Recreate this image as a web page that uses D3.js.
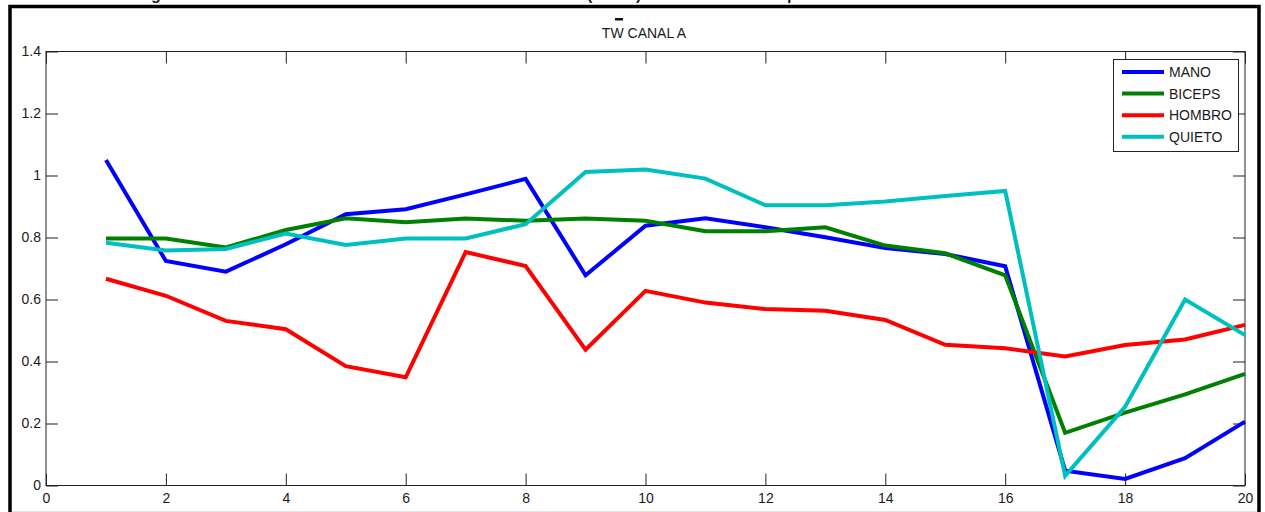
<!DOCTYPE html>
<html>
<head>
<meta charset="utf-8">
<script src="https://cdn.jsdelivr.net/npm/d3@7"></script>
<style>
  body { margin: 0; background: #fff; }
  svg { display: block; }
  text { font-family: Arial, "Liberation Sans", sans-serif; fill: #1a1a1a; }
</style>
</head>
<body>
<svg></svg>
<script>
const W = 1265, H = 512;
const svg = d3.select("svg").attr("width", W).attr("height", H);

// data
const xs = d3.range(1, 21);
const mano   = [1.05, 0.724, 0.69, 0.778, 0.875, 0.891, 0.939, 0.989, 0.678, 0.838,
                0.862, 0.833, 0.801, 0.766, 0.747, 0.707, 0.048, 0.021, 0.088, 0.206];
const biceps = [0.797, 0.797, 0.768, 0.824, 0.862, 0.849, 0.861, 0.854, 0.861, 0.854,
                0.82, 0.82, 0.833, 0.774, 0.749, 0.678, 0.17, 0.235, 0.294, 0.36];
const hombro = [0.667, 0.612, 0.531, 0.504, 0.385, 0.349, 0.753, 0.708, 0.438, 0.628,
                0.59, 0.569, 0.564, 0.534, 0.454, 0.443, 0.416, 0.453, 0.471, 0.518];
const quieto = [0.783, 0.758, 0.763, 0.813, 0.776, 0.797, 0.797, 0.843, 1.011, 1.019,
                0.99, 0.904, 0.904, 0.916, 0.934, 0.95, 0.031, 0.254, 0.6, 0.485];
const seriesNames = ["MANO", "BICEPS", "HOMBRO", "QUIETO"];
const seriesColors = ["#0000ff", "#008000", "#ff0000", "#00bfbf"];
const xTicks = d3.range(0, 21, 2);
const yTicks = [0, 0.2, 0.4, 0.6, 0.8, 1, 1.2, 1.4];

const series = [mano, biceps, hombro, quieto];

const x = d3.scaleLinear().domain([0, 20]).range([46, 1245]);
const y = d3.scaleLinear().domain([0, 1.4]).range([485.5, 51.5]);

// clipped caption of the page above the figure (cut off in the original too)
const cap = svg.append("g").style("font-family", "'Liberation Serif', 'Times New Roman', serif")
    .style("font-weight", "bold").style("font-size", "16px");
cap.append("text").attr("x", 151).attr("y", -0.5).text("g");
cap.append("text").attr("x", 587).attr("y", -0.5).text("(");
cap.append("text").attr("x", 636).attr("y", -0.5).text(")");
cap.append("text").attr("x", 787).attr("y", -0.5).text("p");

// outer frame
svg.append("rect")
    .attr("x", 10).attr("y", 6.5).attr("width", 1249).attr("height", 530)
    .attr("fill", "none").attr("stroke", "#000").attr("stroke-width", 3.5);
svg.append("line")
    .attr("x1", 12).attr("x2", 1257).attr("y1", 511.5).attr("y2", 511.5)
    .attr("stroke", "#e2e2e2");

// axes (ticks pointing inward, box on)
function styleAxis(g) {
    g.select(".domain").remove();
    g.selectAll(".tick line").attr("stroke", "#222");
    g.selectAll(".tick text").style("font-size", "14px").attr("fill", "#1a1a1a");
}
svg.append("g").attr("transform", `translate(0,${y(0)})`)
    .call(d3.axisBottom(x).tickValues(xTicks).tickSizeInner(-12).tickSizeOuter(0)
        .tickPadding(8).tickFormat(d3.format("d")))
    .call(styleAxis);
svg.append("g").attr("transform", `translate(${x(0)},0)`)
    .call(d3.axisLeft(y).tickValues(yTicks).tickSizeInner(-12).tickSizeOuter(0)
        .tickPadding(5).tickFormat(d => d3.format("")(+d.toFixed(1))))
    .call(styleAxis);
svg.append("g").attr("transform", `translate(0,${y(1.4)})`)
    .call(d3.axisTop(x).tickValues(xTicks).tickSizeInner(-12).tickSizeOuter(0).tickFormat(""))
    .call(styleAxis);
svg.append("g").attr("transform", `translate(${x(20)},0)`)
    .call(d3.axisRight(y).tickValues(yTicks).tickSizeInner(-12).tickSizeOuter(0).tickFormat(""))
    .call(styleAxis);

svg.append("rect")
    .attr("x", x(0)).attr("y", y(1.4))
    .attr("width", x(20) - x(0)).attr("height", y(0) - y(1.4))
    .attr("fill", "none").attr("stroke", "#222").attr("stroke-width", 1);

// title with bar over the W
svg.append("text").attr("x", 644).attr("y", 38).attr("text-anchor", "middle")
    .style("font-size", "14px").text("TW CANAL A");
svg.append("rect").attr("x", 615).attr("y", 18).attr("width", 8).attr("height", 2.5).attr("fill", "#111");

// lines
const line = d3.line().x((d, i) => x(xs[i])).y(d => y(d));
svg.append("g").selectAll("path").data(series).join("path")
    .attr("d", line)
    .attr("fill", "none")
    .attr("stroke", (d, i) => seriesColors[i])
    .attr("stroke-width", 4)
    .attr("stroke-linejoin", "miter");

// legend
const lg = svg.append("g");
lg.append("rect").attr("x", 1113.5).attr("y", 59.5).attr("width", 125).attr("height", 92)
    .attr("fill", "#fff").attr("stroke", "#222");
const item = lg.selectAll("g.item").data(seriesNames).join("g").attr("class", "item")
    .attr("transform", (d, i) => `translate(0,${72 + i * 21.6})`);
item.append("line").attr("x1", 1122).attr("x2", 1164)
    .attr("stroke", (d, i) => seriesColors[i]).attr("stroke-width", 4);
item.append("text").attr("x", 1169).attr("dy", "0.36em").style("font-size", "14px").text(d => d);
</script>
</body>
</html>
